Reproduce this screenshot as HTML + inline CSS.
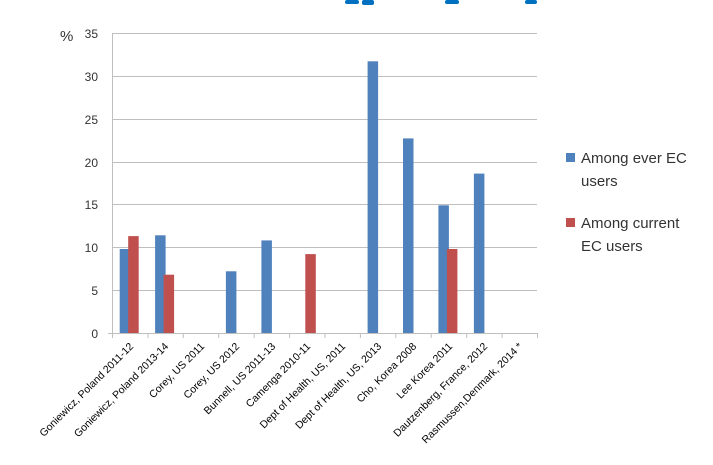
<!DOCTYPE html>
<html><head><style>body{margin:0;background:#fff}</style></head><body>
<svg width="713" height="460" xmlns="http://www.w3.org/2000/svg" font-family="Liberation Sans, sans-serif">
<g fill="#0070c0"><rect x="345" y="0" width="14" height="4" rx="2"/><rect x="362" y="0" width="12" height="5" rx="2"/><rect x="445" y="0" width="14" height="4" rx="2"/><rect x="525" y="0" width="12" height="4" rx="2"/></g>
<g stroke="#bfbfbf" stroke-width="1">
<line x1="112" y1="33.5" x2="537" y2="33.5"/><line x1="112" y1="76.5" x2="537" y2="76.5"/><line x1="112" y1="119.5" x2="537" y2="119.5"/><line x1="112" y1="162.5" x2="537" y2="162.5"/><line x1="112" y1="204.5" x2="537" y2="204.5"/><line x1="112" y1="247.5" x2="537" y2="247.5"/><line x1="112" y1="290.5" x2="537" y2="290.5"/>
<line x1="108" y1="333.5" x2="537" y2="333.5"/><line x1="112.5" y1="33" x2="112.5" y2="333"/>
</g>
<g stroke="#bfbfbf"><path d="M112.5 333v5M147.9 333v5M183.3 333v5M218.7 333v5M254.2 333v5M289.6 333v5M325 333v5M360.4 333v5M395.8 333v5M431.2 333v5M466.7 333v5M502.1 333v5M537.5 333v5"/></g>
<g font-size="12" fill="#333" text-anchor="end">
<text x="98" y="38">35</text><text x="98" y="81">30</text><text x="98" y="124">25</text><text x="98" y="167">20</text><text x="98" y="209">15</text><text x="98" y="252">10</text><text x="98" y="295">5</text><text x="98" y="338">0</text>
</g>
<text x="60" y="41" font-size="15" fill="#333">%</text>
<g fill="#4f81bd">
<rect x="119.7" y="249" width="10.5" height="84"/>
<rect x="155.1" y="235.3" width="10.5" height="97.7"/>
<rect x="225.9" y="271.3" width="10.5" height="61.7"/>
<rect x="261.4" y="240.4" width="10.5" height="92.6"/>
<rect x="367.6" y="61.3" width="10.5" height="271.7"/>
<rect x="403" y="138.4" width="10.5" height="194.6"/>
<rect x="438.4" y="205.3" width="10.5" height="127.7"/>
<rect x="473.9" y="173.6" width="10.5" height="159.4"/>
</g>
<g fill="#c0504d">
<rect x="128.2" y="236.1" width="10.5" height="96.9"/>
<rect x="163.6" y="274.7" width="10.5" height="58.3"/>
<rect x="305.3" y="254.1" width="10.5" height="78.9"/>
<rect x="446.9" y="249" width="10.5" height="84"/>
</g>
<g font-size="10.5" fill="#000" text-anchor="end">
<text transform="translate(134,347) rotate(-45)">Goniewicz, Poland 2011-12</text>
<text transform="translate(169,347) rotate(-45)">Goniewicz, Poland 2013-14</text>
<text transform="translate(205,347) rotate(-45)">Corey, US 2011</text>
<text transform="translate(240,347) rotate(-45)">Corey, US 2012</text>
<text transform="translate(276,347) rotate(-45)">Bunnell, US 2011-13</text>
<text transform="translate(311,347) rotate(-45)">Camenga 2010-11</text>
<text transform="translate(346,347) rotate(-45)">Dept of Health, US, 2011</text>
<text transform="translate(382,347) rotate(-45)">Dept of Health, US, 2013</text>
<text transform="translate(417,347) rotate(-45)">Cho, Korea 2008</text>
<text transform="translate(453,347) rotate(-45)">Lee Korea 2011</text>
<text transform="translate(488,347) rotate(-45)">Dautzenberg, France, 2012</text>
<text transform="translate(523,347) rotate(-45)">Rasmussen,Denmark, 2014 *</text>
</g>
<rect x="566" y="153" width="9" height="9" fill="#4f81bd"/>
<rect x="566" y="218" width="9" height="9" fill="#c0504d"/>
<g font-size="15" fill="#333">
<text x="581" y="163">Among ever EC</text><text x="581" y="186">users</text>
<text x="581" y="228">Among current</text><text x="581" y="251">EC users</text>
</g>
</svg>
</body></html>
